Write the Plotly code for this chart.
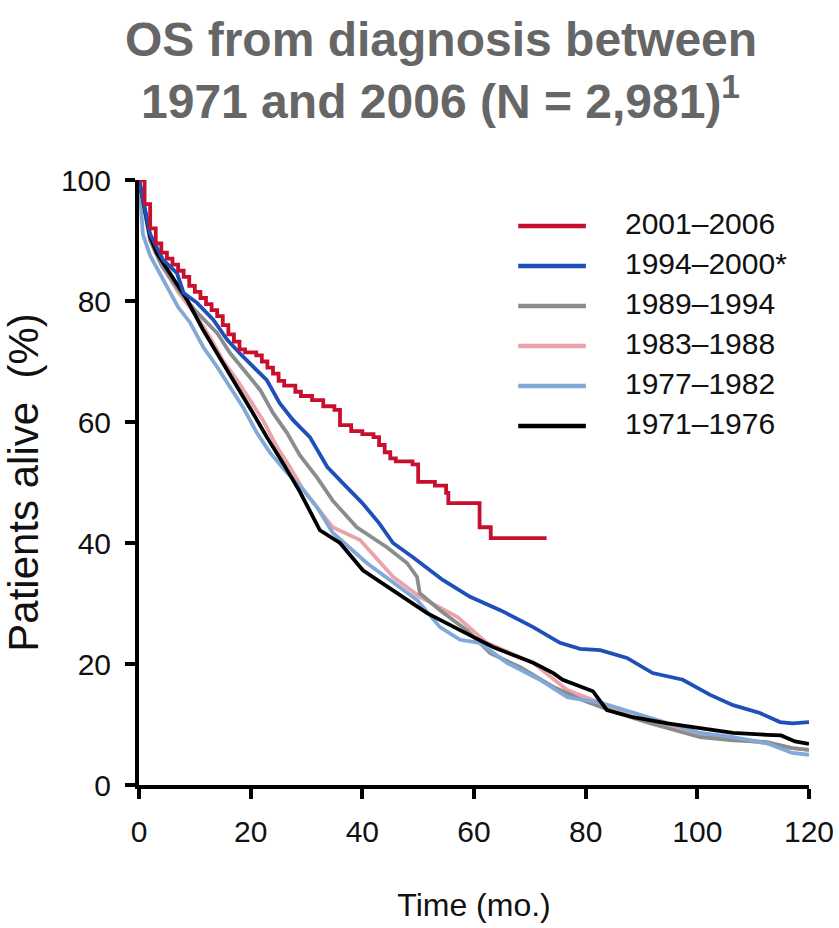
import plotly.graph_objects as go

names = ["2001\u20132006", "1994\u20132000*", "1989\u20131994", "1983\u20131988", "1977\u20131982", "1971\u20131976"]
colors = ["#c8102e", "#1f4fb8", "#8a8d8d", "#eaa3ab", "#80a9d8", "#000000"]

red_t = [0, 1, 2, 3, 4, 5, 6, 7, 8, 9, 10, 11, 12, 13, 14, 15, 16, 17, 18, 19, 21, 22, 23, 24, 25, 26, 28, 29, 31, 33, 35, 36, 38, 40, 42, 43, 44, 45, 46, 49, 50, 53, 55, 55.4, 61, 63, 73]
red_v = [100, 96, 92, 89.5, 88, 87, 86, 85, 84, 82.5, 81.5, 80.5, 79.5, 78.5, 77.5, 76, 74.5, 73.3, 72, 71.5, 71, 70, 69, 68, 66.8, 66, 65, 64.3, 63.6, 62.6, 62, 59.5, 58.5, 58, 57.5, 56.2, 55, 54, 53.5, 53, 50.1, 49.5, 48.3, 46.6, 42.6, 40.8, 40.8]

blue_t = [0, 2, 4.3, 6.8, 8, 10.4, 13.3, 15.8, 18, 20.4, 22.9, 25.2, 27.6, 30.6, 33.7, 36.5, 40, 43, 45.5, 49, 54.4, 59.3, 64.7, 70.6, 75.4, 79, 82.6, 87.4, 92, 97.4, 102.3, 106.4, 111.2, 114.8, 117, 120]
blue_v = [100, 91, 86.8, 84.6, 81.3, 79.7, 76.9, 73.6, 71.4, 69.1, 66.9, 63.1, 60.3, 57.5, 52.6, 49.9, 46.6, 43.3, 40, 37.7, 33.9, 31.1, 28.9, 26.1, 23.5, 22.5, 22.3, 21, 18.5, 17.4, 14.9, 13.2, 11.9, 10.4, 10.2, 10.4]

gray_t = [0, 2, 4, 7, 10, 12, 14, 16.3, 19.3, 21.7, 24, 26.5, 28.8, 31.9, 34.7, 39, 44.4, 48, 49.8, 50.3, 53.9, 58.7, 62.9, 68.2, 74.2, 79.5, 85.6, 91.5, 100.5, 106.4, 112.5, 117, 120]
gray_v = [100, 90, 86, 82, 78.5, 76.5, 74.7, 71.4, 68.1, 65.3, 61.5, 58.2, 54.5, 50.8, 47, 42.6, 39.3, 36.7, 34.4, 31.7, 28.9, 25.6, 21.8, 19.5, 16.2, 14, 11.9, 10.2, 7.9, 7.4, 7.1, 6.1, 5.8]

pink_t = [0, 2, 4, 7, 10.4, 12.7, 15, 17.6, 19.9, 22.2, 24.7, 27, 29.4, 34.7, 39.6, 45.5, 50.3, 57, 62.3, 70.6, 76.7, 82.6, 88.5, 94.6, 103.5, 112.5, 117, 120]
pink_v = [100, 90, 86, 81.5, 77.4, 74, 70.2, 66.9, 63.6, 60.3, 55.9, 52.6, 48.8, 42.6, 40.5, 34.4, 31.1, 27.8, 23.5, 20.2, 15.7, 13.6, 11.2, 9.6, 7.9, 6.9, 6.1, 5.8]

lblue_t = [0, 0.7, 2, 4.3, 7, 9.1, 11.5, 14, 16.3, 18.6, 21.1, 23.5, 26.5, 29.4, 31.9, 34.7, 40.8, 49.8, 53.9, 57.5, 61, 65.9, 71.8, 76.7, 82.6, 88.5, 94.6, 100.5, 106.4, 112.5, 117, 120]
lblue_v = [100, 91, 87.5, 83.5, 79, 76.5, 72.4, 69.1, 65.8, 62.5, 58.2, 54.9, 51.6, 48.8, 45.9, 41.7, 36.7, 30.6, 26.1, 24, 23.5, 20.2, 17.4, 14.5, 13.6, 11.9, 10.2, 8.6, 7.9, 6.9, 5.3, 5.0]

black_t = [0, 2, 3.2, 5.6, 8.6, 11.5, 14.5, 17.6, 20.4, 22.9, 25.8, 28.8, 32.4, 36, 40.1, 45.5, 51.6, 57.5, 63.4, 70.6, 74.2, 75.9, 81.3, 82.5, 83.8, 88.5, 94.6, 100.5, 106.4, 112.5, 115, 117.5, 120]
black_v = [100, 90.6, 87.9, 84.6, 80.2, 75.2, 70.7, 65.8, 61.5, 57.5, 53.2, 48.5, 42.1, 40, 35.5, 32.2, 28.4, 25.6, 22.8, 20.2, 18.5, 17.4, 15.5, 14, 12.4, 11.2, 10.2, 9.4, 8.6, 8.3, 8.2, 7.2, 6.8]

x_ticks = [0, 20, 40, 60, 80, 100, 120]
y_ticks = [0, 20, 40, 60, 80, 100]

series = {
    0: (red_t, red_v, "hv"),
    1: (blue_t, blue_v, "linear"),
    2: (gray_t, gray_v, "linear"),
    3: (pink_t, pink_v, "linear"),
    4: (lblue_t, lblue_v, "linear"),
    5: (black_t, black_v, "linear"),
}
draw_order = [3, 2, 4, 5, 1, 0]

FONT = "Liberation Sans, Arial, sans-serif"

fig = go.Figure()
for i in draw_order:
    t, v, shape = series[i]
    fig.add_trace(go.Scatter(x=t, y=v, mode="lines", name=names[i],
                             line=dict(color=colors[i], width=3.8, shape=shape),
                             showlegend=False))

# manual legend (paper coordinates)
leg_x0, leg_x1, leg_tx = 0.566, 0.667, 0.722
leg_y0, leg_dy = 0.924, 0.0661
for k, (nm, col) in enumerate(zip(names, colors)):
    yy = leg_y0 - k * leg_dy
    fig.add_shape(type="line", xref="paper", yref="paper", x0=leg_x0, x1=leg_x1, y0=yy, y1=yy,
                  line=dict(color=col, width=4.5))
    fig.add_annotation(xref="paper", yref="paper", x=leg_tx, y=yy + 0.004, text=nm, showarrow=False,
                       xanchor="left", yanchor="middle",
                       font=dict(family=FONT, size=30, color="#111111"))

title_font = dict(family=FONT, size=48, color="#666666", weight="bold")
fig.add_annotation(xref="paper", yref="paper", x=0.450, y=1 + 140 / 605, text="OS from diagnosis between",
                   showarrow=False, xanchor="center", yanchor="middle", font=title_font)
fig.add_annotation(xref="paper", yref="paper", x=0.450, y=1 + 82 / 605, text="1971 and 2006 (N = 2,981)<sup>1</sup>",
                   showarrow=False, xanchor="center", yanchor="middle", font=title_font)

tick_font = dict(family=FONT, size=30, color="#111111")

fig.update_layout(
    width=839, height=928,
    margin=dict(l=139, r=30, t=180, b=143),
    paper_bgcolor="white", plot_bgcolor="white",
    xaxis=dict(range=[0, 120], tickvals=x_ticks, showgrid=False, zeroline=False, automargin=False,
               showline=True, linecolor="black", linewidth=4,
               ticks="outside", ticklen=10, tickwidth=4, tickcolor="black",
               tickfont=tick_font, ticklabelstandoff=7, ticklabeloverflow="allow",
               title=dict(text="Time (mo.)", standoff=48,
                          font=dict(family=FONT, size=32, color="#111111"))),
    yaxis=dict(range=[0, 100], tickvals=y_ticks, showgrid=False, zeroline=False, automargin=False,
               showline=True, linecolor="black", linewidth=4,
               ticks="outside", ticklen=10, tickwidth=4, tickcolor="black",
               tickfont=tick_font, ticklabelstandoff=8, ticklabeloverflow="allow",
               title=dict(text="Patients alive\u00a0 (%)", standoff=40,
                          font=dict(family=FONT, size=42, color="#111111"))),
)

fig.write_html("out.html")
